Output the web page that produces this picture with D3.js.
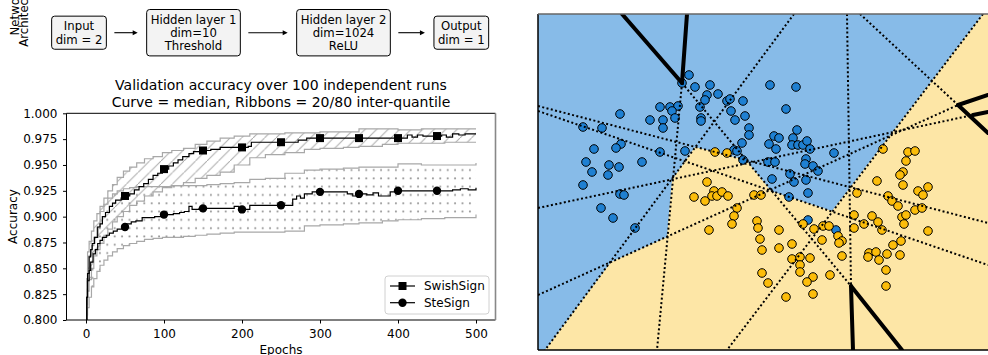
<!DOCTYPE html>
<html>
<head>
<meta charset="utf-8">
<script src="https://cdn.jsdelivr.net/npm/d3@7"></script>
<style>
  body { margin: 0; background: #fff; }
  svg { display: block; font-family: "DejaVu Sans", sans-serif; }
</style>
</head>
<body>
<svg id="fig" width="988" height="355"></svg>
<script>
// ---------- data ----------
const archLabels = [
  ["Input", "dim = 2"],
  ["Hidden layer 1", "dim=10", "Threshold"],
  ["Hidden layer 2", "dim=1024", "ReLU"],
  ["Output", "dim = 1"]
];

const xTicks = [0, 100, 200, 300, 400, 500];
const yTicks = [0.800, 0.825, 0.850, 0.875, 0.900, 0.925, 0.950, 0.975, 1.000];
const markerEpochs = [50, 100, 150, 200, 250, 300, 350, 400, 450];

// median curves
const swishEpochs = [0,1,2,4,6,8,11,15,18,21,25,30,34,38,45,50,56,62,68,74,80,86,92,98,106,112,118,124,132,138,146,160,172,190,208,212,262,272,283,405,412,418,425,432,440,448,456,462,470,478,486,500];
const swishMedian = [0.800,0.822,0.845,0.861,0.868,0.874,0.880,0.890,0.893,0.900,0.904,0.910,0.913,0.916,0.918,0.920,0.922,0.926,0.929,0.932,0.936,0.940,0.942,0.946,0.949,0.952,0.955,0.958,0.961,0.963,0.964,0.965,0.967,0.967,0.968,0.972,0.972,0.974,0.976,0.976,0.979,0.977,0.979,0.978,0.978,0.978,0.979,0.977,0.980,0.979,0.980,0.980];
const steEpochs = [0,1,2,4,6,9,12,15,18,21,26,30,35,40,46,52,58,64,72,80,88,96,104,112,120,126,132,136,145,160,185,190,196,210,262,265,270,275,280,290,320,335,342,350,360,368,375,390,400,440,460,470,480,490,500];
const steMedian = [0.800,0.822,0.838,0.848,0.856,0.864,0.868,0.874,0.877,0.880,0.882,0.884,0.886,0.888,0.890,0.893,0.895,0.896,0.899,0.899,0.900,0.902,0.902,0.903,0.904,0.905,0.910,0.907,0.908,0.908,0.908,0.910,0.907,0.911,0.911,0.917,0.920,0.918,0.922,0.924,0.924,0.922,0.920,0.922,0.921,0.923,0.920,0.924,0.925,0.925,0.925,0.926,0.927,0.926,0.928];

// 20/80 quantile ribbons
const bandEpochs = [0,1,2,4,7,10,14,18,23,28,34,40,48,56,65,75,86,98,110,125,140,155,172,190,210,230,255,280,300,330,350,380,400,430,460,500];
const swishHigh = [0.800,0.840,0.866,0.876,0.886,0.896,0.903,0.910,0.918,0.925,0.931,0.938,0.944,0.948,0.952,0.956,0.958,0.962,0.964,0.966,0.970,0.973,0.976,0.978,0.980,0.980,0.981,0.981,0.982,0.982,0.985,0.985,0.984,0.985,0.985,0.985];
const swishLow  = [0.800,0.815,0.828,0.839,0.850,0.862,0.868,0.874,0.882,0.888,0.895,0.900,0.905,0.911,0.915,0.920,0.924,0.928,0.930,0.933,0.937,0.940,0.943,0.950,0.957,0.960,0.962,0.965,0.966,0.967,0.968,0.970,0.971,0.971,0.972,0.972];
const steHigh   = [0.800,0.830,0.850,0.862,0.872,0.880,0.890,0.905,0.912,0.918,0.922,0.925,0.927,0.928,0.929,0.929,0.929,0.929,0.930,0.930,0.930,0.931,0.932,0.933,0.936,0.937,0.942,0.945,0.946,0.947,0.948,0.948,0.951,0.950,0.950,0.952];
const steLow    = [0.800,0.805,0.812,0.822,0.832,0.840,0.847,0.853,0.858,0.862,0.866,0.869,0.872,0.874,0.876,0.878,0.879,0.880,0.880,0.881,0.882,0.883,0.884,0.885,0.885,0.885,0.886,0.891,0.892,0.893,0.894,0.896,0.897,0.898,0.899,0.902];

// decision-boundary panel
const bluePoints = [[0.01,1.75],[-0.06,1.67],[0.07,1.63],[0.22,1.65],[0.19,1.55],[0.17,1.50],[0.30,1.56],[0.39,1.49],[0.42,1.51],[0.55,1.49],[0.12,1.43],[0.43,1.39],[0.57,1.34],[0.47,1.30],[0.13,1.32],[0.13,1.29],[0.61,1.22],[0.61,1.15],[0.54,1.07],[0.46,1.00],[0.49,0.99],[0.55,0.90],[-0.28,1.43],[-0.18,1.43],[-0.10,1.44],[-0.16,1.39],[-0.25,1.30],[-0.13,1.32],[-0.38,1.30],[-0.25,1.22],[-0.68,1.36],[-1.05,1.23],[-0.86,1.22],[-0.94,1.01],[-0.67,1.06],[-0.72,1.02],[-0.28,0.98],[-0.03,0.99],[-1.02,0.88],[-0.96,0.78],[-0.79,0.85],[-0.69,0.83],[-0.80,0.75],[-0.46,0.88],[-1.05,0.65],[-0.68,0.56],[-0.64,0.55],[-0.87,0.42],[-0.75,0.32],[-0.53,0.22],[0.82,1.65],[1.08,1.63],[0.98,1.41],[1.09,1.20],[0.86,1.14],[0.91,1.12],[0.81,1.06],[0.88,1.01],[1.05,1.12],[1.04,1.05],[1.10,1.05],[1.15,1.05],[1.19,1.09],[1.22,1.01],[1.46,0.97],[0.80,0.88],[0.87,0.88],[1.18,0.91],[1.17,0.86],[1.25,0.84],[1.30,0.79],[1.02,0.76],[0.84,0.71],[1.06,0.68],[1.18,0.70],[1.01,0.53],[1.20,0.57],[1.20,0.30],[1.48,0.20]];
const yellowPoints = [[0.27,0.98],[0.39,0.97],[0.19,0.68],[0.06,0.53],[0.17,0.49],[0.26,0.59],[0.24,0.54],[0.29,0.54],[0.34,0.58],[0.40,0.54],[0.49,0.42],[0.46,0.34],[0.44,0.26],[0.21,0.20],[0.66,0.55],[0.73,0.55],[0.69,0.29],[0.70,0.22],[0.72,0.11],[0.74,0.00],[0.74,-0.23],[0.80,-0.33],[0.91,0.20],[0.91,0.02],[1.04,0.06],[0.98,-0.47],[1.04,-0.09],[1.12,-0.07],[1.22,-0.08],[1.12,-0.15],[1.12,-0.22],[1.25,-0.27],[1.19,-0.32],[1.25,-0.44],[1.42,-0.25],[1.15,0.26],[1.26,0.21],[1.35,0.24],[1.41,0.24],[1.50,0.14],[1.54,0.09],[1.51,0.07],[1.34,0.10],[1.54,-0.06],[1.66,0.35],[1.69,0.57],[1.66,0.22],[1.76,0.26],[1.84,0.34],[1.90,0.28],[1.94,0.20],[1.95,1.01],[1.89,0.69],[2.00,0.54],[2.04,0.49],[2.10,0.44],[2.27,0.40],[2.34,0.42],[2.14,0.33],[2.18,0.35],[2.16,0.26],[2.40,0.19],[2.20,0.98],[2.27,0.99],[2.18,0.89],[2.15,0.78],[2.12,0.75],[2.15,0.65],[2.30,0.59],[2.35,0.55],[2.40,0.63],[2.13,0.09],[2.05,0.05],[1.81,-0.03],[1.88,-0.02],[1.80,-0.07],[1.91,-0.10],[1.99,-0.04],[2.12,-0.05],[1.98,-0.20],[1.98,-0.36]];
const yellowRegion = [[-1.43,-1.0],[-0.77,-0.12],[-0.21,0.13],[-0.16,0.70],[0.07,1.03],[0.58,0.90],[0.83,0.59],[1.44,0.39],[2.95,2.36],[3.05,2.36],[3.05,-1.0]];
const dottedLines = [
  [[1.06,2.36],[-1.43,-1.0]],
  [[1.59,2.36],[1.63,-0.36]],
  [[-0.06,1.67],[-0.31,-1.0]],
  [[-0.06,1.67],[1.63,-0.36]],
  [[1.72,2.36],[2.70,1.45]],
  [[-1.5,1.44],[3.0,0.27]],
  [[-1.5,1.39],[3.0,-0.15]],
  [[-1.5,-0.45],[2.70,1.45]],
  [[-1.5,0.42],[2.85,1.35]],
  [[2.95,2.36],[0.39,-1.0]]
];
const thickLines = [
  [[-0.66,2.36],[-0.06,1.67]],
  [[-0.01,2.36],[-0.06,1.67]],
  [[1.63,-0.36],[1.65,-1.0]],
  [[1.63,-0.36],[2.14,-1.0]],
  [[2.70,1.45],[3.0,1.17]],
  [[2.70,1.45],[3.0,1.55]],
  [[2.85,1.35],[3.0,1.38]]
];

// ---------- figure ----------
const svg = d3.select("#fig");
const defs = svg.append("defs");

// ---- architecture strip ----
const arch = svg.append("g").attr("font-size", "11.7px");
const side = arch.append("g").attr("transform", "translate(0,11) rotate(-90)");
side.append("text").attr("x", 0).attr("y", 18.5).attr("text-anchor", "middle").text("Network");
side.append("text").attr("x", 0).attr("y", 27.5).attr("text-anchor", "middle").text("Architecture");

const boxCx = [79, 193.5, 343.5, 461.3];
const boxCy = 32.7;
const boxes = [];
archLabels.forEach((lines, i) => {
  const g = arch.append("g");
  const rect = g.append("rect");
  const n = lines.length;
  let wmax = 0;
  lines.forEach((t, j) => {
    const tx = g.append("text")
      .attr("x", boxCx[i])
      .attr("y", boxCy + (j - (n - 1) / 2) * 13.3 + 4.2)
      .attr("text-anchor", "middle")
      .text(t);
    wmax = Math.max(wmax, tx.node().getComputedTextLength());
  });
  const w = wmax + 8, h = n * 13.3 + 6.5;
  rect.attr("x", boxCx[i] - w / 2).attr("y", boxCy - h / 2)
    .attr("width", w).attr("height", h).attr("rx", 3)
    .attr("fill", "#f3f3f3").attr("stroke", "#000").attr("stroke-width", 1);
  boxes.push([boxCx[i] - w / 2, boxCx[i] + w / 2]);
});
for (let i = 0; i < boxes.length - 1; i++) {
  const x0 = boxes[i][1] + 8, x1 = boxes[i + 1][0] - 9;
  arch.append("line").attr("x1", x0).attr("x2", x1 - 4).attr("y1", boxCy).attr("y2", boxCy)
    .attr("stroke", "#000").attr("stroke-width", 1.1);
  arch.append("path")
    .attr("d", `M${x1},${boxCy} L${x1 - 5},${boxCy - 2.5} L${x1 - 5},${boxCy + 2.5} Z`)
    .attr("fill", "#000");
}

// ---- accuracy chart ----
const x = d3.scaleLinear().domain([-25, 525]).range([66.5, 495.5]);
const y = d3.scaleLinear().domain([0.8, 1.0]).range([320, 113.3]);

defs.append("clipPath").attr("id", "clipL")
  .append("rect").attr("x", 66.5).attr("y", 113.3).attr("width", 429).attr("height", 206.7);

const hatch = defs.append("pattern").attr("id", "hatch")
  .attr("patternUnits", "userSpaceOnUse").attr("width", 11.5).attr("height", 11.5);
hatch.append("path")
  .attr("d", "M-1,12.5 L12.5,-1 M-3,1.5 L1.5,-3 M10,14.5 L14.5,10")
  .attr("stroke", "#a9a9a9").attr("stroke-width", 1).attr("fill", "none");

const dots = defs.append("pattern").attr("id", "dots")
  .attr("patternUnits", "userSpaceOnUse").attr("width", 7.4).attr("height", 8.3);
dots.append("circle").attr("cx", 3.7).attr("cy", 4.1).attr("r", 1.05).attr("fill", "#9a9a9a");

const chart = svg.append("g").attr("clip-path", "url(#clipL)");

function band(lo, hi, fill) {
  const rows = bandEpochs.map((e, i) => ({ e, lo: lo[i], hi: hi[i] }));
  chart.append("path").datum(rows)
    .attr("d", d3.area().x(d => x(d.e)).y0(d => y(d.lo)).y1(d => y(d.hi)).curve(d3.curveStepAfter))
    .attr("fill", fill);
  [lo, hi].forEach(arr => {
    chart.append("path").datum(rows.map((r, i) => [r.e, arr[i]]))
      .attr("d", d3.line().x(d => x(d[0])).y(d => y(d[1])).curve(d3.curveStepAfter))
      .attr("fill", "none").attr("stroke", "#a8a8a8").attr("stroke-width", 1.2);
  });
}
band(swishLow, swishHigh, "url(#hatch)");
band(steLow, steHigh, "url(#dots)");

function stepValue(epochs, vals, e) {
  return vals[Math.max(0, d3.bisectRight(epochs, e) - 1)];
}

const medLine = d3.line().x(d => x(d[0])).y(d => y(d[1])).curve(d3.curveStepAfter);
chart.append("path").datum(swishEpochs.map((e, i) => [e, swishMedian[i]]))
  .attr("d", medLine).attr("fill", "none").attr("stroke", "#000").attr("stroke-width", 1.2);
chart.append("path").datum(steEpochs.map((e, i) => [e, steMedian[i]]))
  .attr("d", medLine).attr("fill", "none").attr("stroke", "#000").attr("stroke-width", 1.2);

chart.selectAll("rect.sq").data(markerEpochs).enter().append("rect")
  .attr("x", d => x(d) - 4).attr("y", d => y(stepValue(swishEpochs, swishMedian, d)) - 4)
  .attr("width", 8).attr("height", 8).attr("fill", "#000");
chart.selectAll("circle.ci").data(markerEpochs).enter().append("circle")
  .attr("cx", d => x(d)).attr("cy", d => y(stepValue(steEpochs, steMedian, d)))
  .attr("r", 4.2).attr("fill", "#000");

// axes
const xAxis = svg.append("g").attr("transform", "translate(0,320)")
  .call(d3.axisBottom(x).tickValues(xTicks).tickSize(3.5).tickPadding(6));
const yAxis = svg.append("g").attr("transform", "translate(66.5,0)")
  .call(d3.axisLeft(y).tickValues(yTicks).tickFormat(d3.format(".3f")).tickSize(3.5).tickPadding(5.5));
[xAxis, yAxis].forEach(a => {
  a.select(".domain").remove();
  a.selectAll("text").attr("font-size", "12px").attr("font-family", "DejaVu Sans").attr("fill", "#000");
  a.selectAll("line").attr("stroke", "#000");
});

// spines
svg.append("line").attr("x1", 66.5).attr("x2", 66.5).attr("y1", 113.3).attr("y2", 320).attr("stroke", "#000");
svg.append("line").attr("x1", 66.5).attr("x2", 495.5).attr("y1", 320).attr("y2", 320).attr("stroke", "#000");
svg.append("line").attr("x1", 66.5).attr("x2", 495.5).attr("y1", 113.3).attr("y2", 113.3).attr("stroke", "#000");
svg.append("line").attr("x1", 495.5).attr("x2", 495.5).attr("y1", 113.3).attr("y2", 320).attr("stroke", "#888").attr("stroke-width", 1.6);

// titles
const title = svg.append("g").attr("font-size", "14px").attr("text-anchor", "middle");
title.append("text").attr("x", 281).attr("y", 90).text("Validation accuracy over 100 independent runs");
title.append("text").attr("x", 281).attr("y", 107).text("Curve = median, Ribbons = 20/80 inter-quantile");
svg.append("text").attr("transform", "translate(16.7,216.5) rotate(-90)")
  .attr("text-anchor", "middle").attr("font-size", "12px").text("Accuracy");
svg.append("text").attr("x", 281).attr("y", 354).attr("text-anchor", "middle")
  .attr("font-size", "12px").text("Epochs");

// legend
const leg = svg.append("g");
leg.append("rect").attr("x", 385).attr("y", 276).attr("width", 104).attr("height", 38).attr("rx", 3)
  .attr("fill", "#fff").attr("fill-opacity", 0.8).attr("stroke", "#d0d0d0");
[["SwishSign", "square", 286], ["SteSign", "circle", 302.7]].forEach(([name, m, ly]) => {
  leg.append("line").attr("x1", 390).attr("x2", 415).attr("y1", ly).attr("y2", ly)
    .attr("stroke", "#000").attr("stroke-width", 1.2);
  if (m === "square") leg.append("rect").attr("x", 398.5).attr("y", ly - 4).attr("width", 8).attr("height", 8);
  else leg.append("circle").attr("cx", 402.5).attr("cy", ly).attr("r", 4.2);
  leg.append("text").attr("x", 424).attr("y", ly + 4.3).attr("font-size", "12px").text(name);
});

// ---- decision boundary panel ----
const rx = d3.scaleLinear().domain([-1.5, 3.0]).range([538, 988]);
const ry = d3.scaleLinear().domain([-1.0, 2.36]).range([350, 14]);

defs.append("clipPath").attr("id", "clipR")
  .append("rect").attr("x", rx(-1.5)).attr("y", ry(2.36)).attr("width", 452).attr("height", ry(-1) - ry(2.36));

const panel = svg.append("g").attr("clip-path", "url(#clipR)");
panel.append("rect").attr("x", rx(-1.5)).attr("y", ry(2.36)).attr("width", 452).attr("height", ry(-1) - ry(2.36))
  .attr("fill", "#87bbe8");
panel.append("path").datum(yellowRegion)
  .attr("d", d3.line().x(d => rx(d[0])).y(d => ry(d[1])).curve(d3.curveLinearClosed))
  .attr("fill", "#fde6a6");

panel.selectAll("circle.b").data(bluePoints).enter().append("circle")
  .attr("cx", d => rx(d[0])).attr("cy", d => ry(d[1])).attr("r", 4.3)
  .attr("fill", "#1f80d2").attr("stroke", "#000").attr("stroke-width", 1);
panel.selectAll("circle.y").data(yellowPoints).enter().append("circle")
  .attr("cx", d => rx(d[0])).attr("cy", d => ry(d[1])).attr("r", 4.3)
  .attr("fill", "#fcbd0a").attr("stroke", "#000").attr("stroke-width", 1);

panel.selectAll("line.dot").data(dottedLines).enter().append("line")
  .attr("x1", d => rx(d[0][0])).attr("y1", d => ry(d[0][1]))
  .attr("x2", d => rx(d[1][0])).attr("y2", d => ry(d[1][1]))
  .attr("stroke", "#000").attr("stroke-width", 2).attr("stroke-dasharray", "2,2.4");
panel.selectAll("line.thick").data(thickLines).enter().append("line")
  .attr("x1", d => rx(d[0][0])).attr("y1", d => ry(d[0][1]))
  .attr("x2", d => rx(d[1][0])).attr("y2", d => ry(d[1][1]))
  .attr("stroke", "#000").attr("stroke-width", 4).attr("stroke-linecap", "round");

svg.append("line").attr("x1", rx(-1.5)).attr("x2", rx(-1.5)).attr("y1", ry(2.36)).attr("y2", ry(-1))
  .attr("stroke", "#000").attr("stroke-width", 1.5);
svg.append("line").attr("x1", rx(-1.5)).attr("x2", 990).attr("y1", ry(-1)).attr("y2", ry(-1))
  .attr("stroke", "#000").attr("stroke-width", 1.5);
svg.append("line").attr("x1", rx(-1.5)).attr("x2", 990).attr("y1", ry(2.36)).attr("y2", ry(2.36))
  .attr("stroke", "#666").attr("stroke-width", 1.5);
</script>
</body>
</html>
